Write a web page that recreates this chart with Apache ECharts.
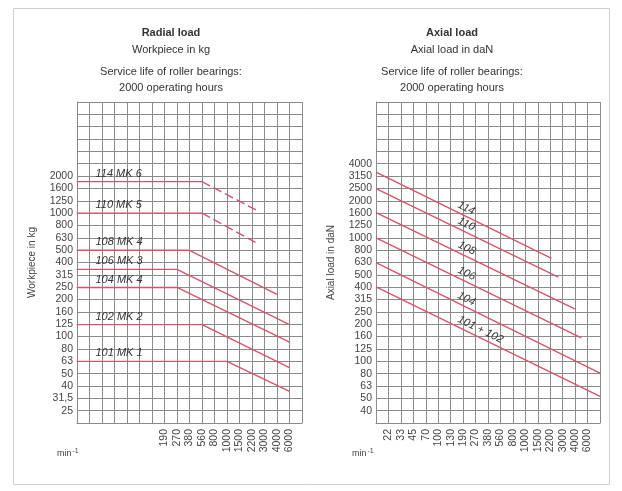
<!DOCTYPE html>
<html>
<head>
<meta charset="utf-8">
<script src="https://cdn.jsdelivr.net/npm/echarts@6/dist/echarts.min.js"></script>
<style>
  html, body { margin: 0; padding: 0; background: #fff; }
  #chart { width: 622px; height: 491px; }
</style>
</head>
<body>
<div id="chart"></div>
<script>
// speed columns in min-1 ('' = grid column without a label)
const radialSpeedLabels = ['', '', '', '', '', '', '', '190', '270', '380', '560', '800', '1000', '1500', '2200', '3000', '4000', '6000', ''];
const axialSpeedLabels = ['', '22', '33', '45', '70', '100', '130', '190', '270', '380', '560', '800', '1000', '1500', '2200', '3000', '4000', '6000', ''];

// load scale (R10 steps); first label sits one step above the bottom edge
const radialLoadLabels = ['25', '31,5', '40', '50', '63', '80', '100', '125', '160', '200', '250', '315', '400', '500', '630', '800', '1000', '1250', '1600', '2000'];
const axialLoadLabels = ['40', '50', '63', '80', '100', '125', '160', '200', '250', '315', '400', '500', '630', '800', '1000', '1250', '1600', '2000', '2500', '3150', '4000'];

// radial load curves: flat part, then falling part (x = speed column)
const radialNames = ['114 MK 6', '110 MK 5', '108 MK 4', '106 MK 3', '104 MK 4', '102 MK 2', '101 MK 1'];
const radialLoad = [1800, 1000, 500, 350, 250, 125, 63];
const radialBreakCol = [10, 10, 9, 8, 8, 10, 12];
const radialEndCol = [14.4, 14.4, 16, 17, 17, 17, 17];
const radialEndLoad = [1050, 570, 220, 125, 90, 56, 36];

// axial load lines (daN), from the left edge to the end column
const axialNames = ['114', '110', '108', '106', '104', '101 + 102'];
const axialStartLoad = [3400, 2500, 1600, 1000, 630, 400];
const axialEndCol = [14.1, 14.65, 16, 16.5, 18, 18];
const axialEndLoad = [680, 480, 265, 155, 80, 52];

const lg = Math.log10;
const red = '#d9536b';
const gridColor = '#8a8a8a';
const labelColor = '#444';
const font = '"Liberation Sans", Arial, sans-serif';
const dashedSlope = ['114 MK 6', '110 MK 5'];

function xAxisFor(gridIndex, labels) {
  return {
    gridIndex: gridIndex, type: 'value', min: 0, max: labels.length - 1, interval: 1,
    axisLine: { show: true, lineStyle: { color: gridColor, width: 1 } },
    axisTick: { show: false },
    splitLine: { show: true, lineStyle: { color: gridColor, width: 1 } },
    axisLabel: {
      rotate: 90, margin: 6, fontSize: 10.5, color: labelColor, fontFamily: font,
      formatter: v => labels[Math.round(v)] || ''
    }
  };
}

function yAxisFor(gridIndex, labels, firstExp, min, max, name) {
  return {
    gridIndex: gridIndex, type: 'value', min: min, max: max, interval: 0.1,
    name: name, nameLocation: 'middle', nameGap: 40,
    nameTextStyle: { fontSize: 10, color: labelColor, fontFamily: font },
    axisLine: { show: true, lineStyle: { color: gridColor, width: 1 } },
    axisTick: { show: false },
    splitLine: { show: true, lineStyle: { color: gridColor, width: 1 } },
    axisLabel: {
      margin: 4, fontSize: 10.5, color: labelColor, fontFamily: font,
      formatter: v => labels[Math.round(v * 10) - firstExp] || ''
    }
  };
}

const series = [];
radialNames.forEach((name, i) => {
  const flat = lg(radialLoad[i]);
  series.push({
    type: 'line', xAxisIndex: 0, yAxisIndex: 0, silent: true,
    symbol: 'circle', symbolSize: 1, itemStyle: { color: red },
    lineStyle: { color: red, width: 1.4 },
    data: [
      {
        value: [0, flat],
        label: {
          show: true, formatter: name, position: 'right', offset: [13, -8],
          fontSize: 11, fontStyle: 'italic', color: '#333', fontFamily: font
        }
      },
      [radialBreakCol[i], flat]
    ]
  });
  series.push({
    type: 'line', xAxisIndex: 0, yAxisIndex: 0, silent: true,
    symbol: 'none',
    lineStyle: { color: red, width: 1.4, type: dashedSlope.includes(name) ? [9, 4] : 'solid' },
    data: [[radialBreakCol[i], flat], [radialEndCol[i], lg(radialEndLoad[i])]]
  });
});

axialNames.forEach((name, i) => {
  series.push({
    type: 'line', xAxisIndex: 1, yAxisIndex: 1, silent: true, data: [],
    markLine: {
      silent: true, symbol: 'none', animation: false,
      lineStyle: { color: red, width: 1.4, type: 'solid' },
      label: {
        show: true, position: 'insideStartTop', formatter: name, distance: [88, 2],
        fontSize: 11, fontStyle: 'italic', color: '#333', fontFamily: font
      },
      emphasis: { disabled: true },
      data: [[{ coord: [0, lg(axialStartLoad[i])] }, { coord: [axialEndCol[i], lg(axialEndLoad[i])] }]]
    }
  });
});

function titleBlock(center, head, sub) {
  return [
    {
      left: center, top: 26, textAlign: 'center', padding: 0, itemGap: 3,
      text: head, subtext: sub,
      textStyle: { fontSize: 11, fontWeight: 'bold', color: '#333', lineHeight: 14, fontFamily: font },
      subtextStyle: { fontSize: 11, color: '#333', lineHeight: 14, fontFamily: font }
    },
    {
      left: center, top: 64, textAlign: 'center', padding: 0,
      text: 'Service life of roller bearings:\n2000 operating hours',
      textStyle: { fontSize: 11, fontWeight: 'normal', color: '#333', lineHeight: 16, fontFamily: font }
    }
  ];
}

const minText = { text: 'min{s|-1}', fill: labelColor, font: '9px ' + font, rich: { s: { fontSize: 7, verticalAlign: 'top', padding: [0, 0, 5, 1] } } };

const chart = echarts.init(document.getElementById('chart'));
chart.setOption({
  animation: false,
  backgroundColor: '#fff',
  title: titleBlock(171, 'Radial load', 'Workpiece in kg').concat(titleBlock(452, 'Axial load', 'Axial load in daN')),
  grid: [
    { left: 77, width: 225, top: 102, height: 321 },
    { left: 376, width: 224, top: 102, height: 321 }
  ],
  xAxis: [xAxisFor(0, radialSpeedLabels), xAxisFor(1, axialSpeedLabels)],
  yAxis: [
    yAxisFor(0, radialLoadLabels, 14, 1.3, 3.9, 'Workpiece in kg'),
    yAxisFor(1, axialLoadLabels, 16, 1.5, 4.1, 'Axial load in daN')
  ],
  graphic: [
    {
      type: 'rect', silent: true, z: -1,
      shape: { x: 13.5, y: 8.5, width: 596, height: 476 },
      style: { fill: 'none', stroke: '#cfcfcf', lineWidth: 1 }
    },
    { type: 'text', left: 57, top: 448, silent: true, style: minText },
    { type: 'text', left: 352, top: 448, silent: true, style: minText }
  ],
  series: series
});
</script>
</body>
</html>
